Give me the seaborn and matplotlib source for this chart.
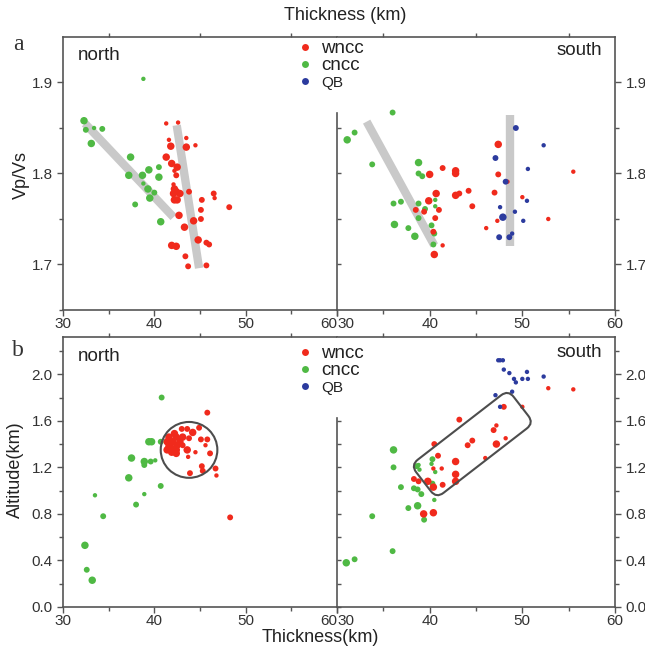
import numpy as np
import pandas as pd
import matplotlib
matplotlib.use("Agg")
import matplotlib.pyplot as plt
import seaborn as sns
from matplotlib.patches import Ellipse, FancyBboxPatch
from matplotlib.transforms import Affine2D, ScaledTranslation
from matplotlib.ticker import MultipleLocator, FixedLocator
from matplotlib.lines import Line2D

# ---------------- panel a : crustal thickness (km) vs Vp/Vs ----------------
# w = marker weight class (1 small, 2 medium, 3 large)
an_wncc_h = [41.3, 42.6, 43.5, 41.6, 41.8, 43.5, 44.5, 41.3, 41.9, 42.5, 42.2, 42.4, 42.1,
             42.2, 42.4, 42.1, 42.8, 42.2, 42.5, 43.8, 45.2, 46.5, 46.6, 48.2, 45.1, 42.7,
             44.3, 45.1, 43.3, 44.8, 45.7, 46.0, 41.9, 42.4, 43.4, 43.7, 45.7]
an_wncc_k = [1.855, 1.856, 1.839, 1.837, 1.830, 1.829, 1.831, 1.818, 1.811, 1.807, 1.803,
             1.798, 1.788, 1.783, 1.780, 1.778, 1.778, 1.771, 1.771, 1.780, 1.771, 1.778,
             1.773, 1.763, 1.760, 1.754, 1.748, 1.750, 1.741, 1.727, 1.724, 1.722, 1.721,
             1.720, 1.709, 1.698, 1.699]
an_wncc_w = [1, 1, 1, 1, 3, 3, 1, 3, 3, 3, 1, 2, 1, 3, 3, 3, 3, 3, 3, 2, 2, 2, 1, 2, 2, 3,
             3, 2, 3, 3, 2, 2, 3, 3, 2, 2, 2]

an_cncc_h = [38.8, 32.3, 32.5, 33.4, 34.3, 33.1, 37.4, 39.4, 40.5, 37.2, 38.7, 40.5, 38.8,
             39.3, 40.0, 39.5, 37.9, 40.7]
an_cncc_k = [1.904, 1.858, 1.848, 1.850, 1.849, 1.833, 1.818, 1.804, 1.807, 1.798, 1.798,
             1.796, 1.789, 1.783, 1.779, 1.773, 1.766, 1.747]
an_cncc_w = [1, 3, 2, 1, 2, 3, 3, 3, 2, 3, 3, 3, 1, 3, 2, 3, 2, 3]

as_wncc_h = [47.4, 41.4, 42.8, 42.8, 40.0, 47.4, 44.2, 43.2, 42.8, 40.7, 47.0, 50.0, 39.9,
             44.6, 38.5, 39.4, 41.0, 40.6, 47.3, 48.4, 52.8, 46.1, 40.4, 41.4, 40.5, 55.5]
as_wncc_k = [1.832, 1.806, 1.803, 1.800, 1.799, 1.799, 1.781, 1.778, 1.776, 1.778, 1.779,
             1.774, 1.770, 1.764, 1.760, 1.758, 1.760, 1.751, 1.748, 1.791, 1.750, 1.740,
             1.736, 1.721, 1.711, 1.802]
as_wncc_w = [3, 2, 3, 3, 3, 2, 2, 2, 3, 3, 2, 1, 3, 2, 2, 2, 2, 2, 1, 1, 1, 1, 2, 1, 3, 1]

as_cncc_h = [36.0, 31.9, 31.1, 33.8, 38.8, 38.8, 39.2, 36.1, 36.9, 38.8, 40.6, 39.5, 40.6,
             38.8, 36.2, 37.7, 38.4, 40.2, 40.5, 40.4]
as_cncc_k = [1.867, 1.845, 1.837, 1.810, 1.812, 1.800, 1.797, 1.767, 1.769, 1.767, 1.771,
             1.761, 1.764, 1.751, 1.744, 1.740, 1.731, 1.743, 1.734, 1.722]
as_cncc_w = [2, 2, 3, 2, 3, 2, 2, 2, 2, 2, 1, 2, 1, 2, 3, 2, 3, 2, 2, 2]

as_qb_h = [49.3, 52.3, 47.1, 50.6, 48.2, 50.5, 47.6, 49.2, 47.9, 50.1, 47.5, 48.6, 48.9]
as_qb_k = [1.850, 1.831, 1.817, 1.805, 1.791, 1.770, 1.763, 1.758, 1.752, 1.748, 1.730,
           1.730, 1.734]
as_qb_w = [2, 1, 2, 1, 2, 1, 1, 1, 3, 1, 2, 2, 1]

# trend bars (thickness, Vp/Vs end points)
an_trend_cncc = ([32.4, 42.1], [1.855, 1.752])
an_trend_wncc = ([42.45, 44.9], [1.853, 1.696])
as_trend_cncc = ([33.2, 40.5], [1.857, 1.721])
as_trend_qb = ([48.7, 48.7], [1.864, 1.720])

# ---------------- panel b : crustal thickness (km) vs altitude (km) ----------------
bn_wncc_h = [45.8, 43.0, 43.6, 44.9, 44.2, 42.2, 41.6, 42.4, 43.1, 43.8, 45.1, 45.8, 41.4,
             42.0, 42.8, 42.5, 41.6, 42.0, 42.4, 43.1, 45.6, 41.4, 41.9, 42.4, 43.6, 46.1,
             44.5, 43.7, 46.7, 45.2, 45.3, 43.9, 46.8, 48.3]
bn_wncc_a = [1.67, 1.53, 1.53, 1.54, 1.50, 1.49, 1.46, 1.46, 1.46, 1.45, 1.44, 1.44, 1.42,
             1.42, 1.42, 1.39, 1.38, 1.36, 1.35, 1.39, 1.39, 1.35, 1.33, 1.32, 1.35, 1.32,
             1.33, 1.29, 1.19, 1.21, 1.17, 1.15, 1.13, 0.77]
bn_wncc_w = [2, 2, 2, 2, 3, 3, 3, 3, 3, 2, 2, 2, 3, 3, 3, 3, 3, 3, 3, 2, 1, 3, 3, 3, 3, 2,
             1, 1, 2, 2, 2, 2, 1, 2]

bn_cncc_h = [40.8, 39.4, 39.7, 40.7, 37.5, 38.9, 38.9, 39.6, 40.1, 37.2, 40.7, 33.5, 38.9,
             38.0, 34.4, 32.4, 32.6, 33.2]
bn_cncc_a = [1.80, 1.42, 1.42, 1.42, 1.28, 1.25, 1.22, 1.25, 1.26, 1.11, 1.04, 0.96, 0.97,
             0.88, 0.78, 0.53, 0.32, 0.23]
bn_cncc_w = [2, 3, 3, 2, 3, 3, 2, 2, 1, 3, 2, 1, 1, 2, 2, 3, 2, 3]

bs_wncc_h = [52.8, 55.5, 48.0, 50.0, 43.2, 46.9, 47.2, 48.2, 44.6, 44.1, 47.2, 40.5, 40.9,
             46.0, 42.8, 40.4, 41.3, 42.8, 38.8, 39.8, 41.4, 42.8, 40.4, 39.35, 40.4, 38.3]
bs_wncc_a = [1.88, 1.87, 1.72, 1.72, 1.61, 1.52, 1.56, 1.45, 1.43, 1.39, 1.40, 1.40, 1.30,
             1.28, 1.25, 1.19, 1.19, 1.14, 1.08, 1.08, 1.05, 1.08, 1.03, 0.80, 0.81, 1.10]
bs_wncc_w = [1, 1, 2, 1, 2, 2, 1, 1, 2, 2, 3, 2, 2, 1, 3, 1, 1, 3, 2, 3, 2, 3, 3, 3, 3, 2]

bs_cncc_h = [36.1, 36.1, 38.6, 38.9, 40.3, 40.2, 36.9, 38.3, 38.7, 39.1, 40.6, 40.3, 37.7,
             38.7, 40.5, 39.4, 33.8, 36.0, 31.9, 31.0, 38.8]
bs_cncc_a = [1.35, 1.20, 1.21, 1.18, 1.27, 1.23, 1.03, 1.02, 1.01, 0.97, 1.16, 1.06, 0.85,
             0.87, 0.92, 0.75, 0.78, 0.48, 0.41, 0.38, 1.22]
bs_cncc_w = [3, 2, 2, 1, 2, 1, 2, 2, 2, 2, 1, 2, 2, 3, 1, 2, 2, 2, 2, 3, 1]

bs_qb_h = [47.4, 47.6, 47.9, 48.0, 48.6, 49.1, 49.3, 50.5, 50.0, 50.6, 52.3, 47.1, 47.6, 48.9]
bs_qb_a = [2.12, 2.12, 2.12, 2.04, 2.01, 1.96, 1.93, 2.02, 1.96, 1.96, 1.98, 1.82, 1.72, 1.85]
bs_qb_w = [1, 1, 1, 1, 1, 1, 1, 1, 1, 1, 1, 1, 1, 1]

# outlined clusters
bn_circle = dict(center=(43.8, 1.35), width=6.2, height=0.48)
bs_box_center = (44.6, 1.40)

# axis ticks
thk_ticks = [30, 40, 50, 60]
vpvs_major = [1.7, 1.8, 1.9]
vpvs_minor = [1.65, 1.75, 1.85]
alt_major = [0.0, 0.4, 0.8, 1.2, 1.6, 2.0]
alt_minor = [0.2, 0.6, 1.0, 1.4, 1.8, 2.2]

colors = {"wncc": "#f02a1c", "cncc": "#4fb944", "QB": "#2c3b9e"}
sizes = {1: 10, 2: 18, 3: 29}

sns.set_style("ticks")
plt.rcParams["font.family"] = ["Liberation Sans", "DejaVu Sans"]
EDGE = "#555555"
TXT = "#333333"

fig = plt.figure(figsize=(6.45, 6.49), dpi=100)


def px(x0, y0, x1, y1):
    return [x0 / 645, 1 - y1 / 649, (x1 - x0) / 645, (y1 - y0) / 649]


def scatter(ax, parts):
    frames = [pd.DataFrame({"thk": h, "val": v, "w": w, "grp": g}) for g, h, v, w in parts]
    df = pd.concat(frames, ignore_index=True)
    sns.scatterplot(data=df, x="thk", y="val", hue="grp", size="w", palette=colors,
                    sizes=sizes, legend=False, linewidth=0, ax=ax, zorder=3)
    ax.set_xlabel("")
    ax.set_ylabel("")


def style(ax, ylim, major, minor, side, inner_top, inner_ticks):
    ax.set_xlim(30, 60)
    ax.set_ylim(*ylim)
    ax.set_xticks(thk_ticks)
    ax.xaxis.set_minor_locator(MultipleLocator(5))
    ax.tick_params(axis="x", which="both", direction="out", colors=EDGE, labelcolor=TXT,
                   labelsize=11, width=1.0)
    ax.tick_params(axis="x", which="major", length=4, pad=1, top=False)
    ax.tick_params(axis="x", which="minor", length=3, top=True)
    for s in ax.spines.values():
        s.set_color(EDGE)
        s.set_linewidth(1.2)
    labels = ax.get_xticklabels()
    if side == "north":
        labels[-1].set_ha("right")
        ax.spines["right"].set_visible(False)
        ax.yaxis.set_major_locator(FixedLocator(major))
        ax.yaxis.set_minor_locator(FixedLocator(minor))
        ax.tick_params(axis="y", which="both", direction="out", colors=EDGE,
                       labelcolor=TXT, labelsize=11, width=1.0, right=False)
        ax.tick_params(axis="y", which="major", length=4)
        ax.tick_params(axis="y", which="minor", length=3)
    else:
        labels[0].set_ha("left")
        ax.spines["right"].set_visible(False)
        ax.spines["left"].set_bounds(ylim[0], inner_top)
        ax.yaxis.set_major_locator(FixedLocator(inner_ticks))
        ax.yaxis.set_minor_locator(FixedLocator([]))
        ax.tick_params(axis="y", which="both", direction="in", colors=EDGE,
                       labelleft=False, length=3, width=1.0)
        sec = ax.secondary_yaxis("right")
        sec.yaxis.set_major_locator(FixedLocator(major))
        sec.yaxis.set_minor_locator(FixedLocator(minor))
        sec.tick_params(which="both", direction="out", colors=EDGE, labelcolor=TXT,
                        labelsize=11, width=1.0)
        sec.tick_params(which="major", length=4)
        sec.tick_params(which="minor", length=3)
        sec.spines["right"].set_color(EDGE)
        sec.spines["right"].set_linewidth(1.2)


def bar(ax, seg):
    ax.plot(seg[0], seg[1], color="#c9c9c9", lw=6, solid_capstyle="butt", zorder=2)


ax_an = fig.add_axes(px(63, 37, 337, 310))
ax_as = fig.add_axes(px(337, 37, 615, 310))
ax_bn = fig.add_axes(px(63, 337, 337, 607))
ax_bs = fig.add_axes(px(337, 337, 615, 607))

# panel a
bar(ax_an, an_trend_cncc)
bar(ax_an, an_trend_wncc)
scatter(ax_an, [("cncc", an_cncc_h, an_cncc_k, an_cncc_w),
                ("wncc", an_wncc_h, an_wncc_k, an_wncc_w)])
bar(ax_as, as_trend_cncc)
bar(ax_as, as_trend_qb)
scatter(ax_as, [("cncc", as_cncc_h, as_cncc_k, as_cncc_w),
                ("wncc", as_wncc_h, as_wncc_k, as_wncc_w),
                ("QB", as_qb_h, as_qb_k, as_qb_w)])
style(ax_an, (1.65, 1.95), vpvs_major, vpvs_minor, "north", None, None)
style(ax_as, (1.65, 1.95), vpvs_major, vpvs_minor, "south", 1.866,
      [1.70, 1.75, 1.80, 1.85])

# panel b
scatter(ax_bn, [("cncc", bn_cncc_h, bn_cncc_a, bn_cncc_w),
                ("wncc", bn_wncc_h, bn_wncc_a, bn_wncc_w)])
scatter(ax_bs, [("cncc", bs_cncc_h, bs_cncc_a, bs_cncc_w),
                ("wncc", bs_wncc_h, bs_wncc_a, bs_wncc_w),
                ("QB", bs_qb_h, bs_qb_a, bs_qb_w)])
style(ax_bn, (0, 2.32), alt_major, alt_minor, "north", None, None)
style(ax_bs, (0, 2.32), alt_major, alt_minor, "south", 1.62,
      [0.0, 0.2, 0.4, 0.6, 0.8, 1.0, 1.2, 1.4, 1.6])

ax_bn.add_patch(Ellipse(bn_circle["center"], bn_circle["width"], bn_circle["height"],
                        fill=False, ec="#4d4d4d", lw=1.5, zorder=4))
box = FancyBboxPatch((-0.616, -0.21), 1.232, 0.42,
                     boxstyle="round,pad=0,rounding_size=0.09",
                     fill=False, ec="#4d4d4d", lw=1.5, zorder=4,
                     transform=Affine2D().rotate_deg(37.7) + fig.dpi_scale_trans
                     + ScaledTranslation(*bs_box_center, ax_bs.transData))
ax_bs.add_patch(box)
ax_bs.set_xlim(30, 60)
ax_bs.set_ylim(0, 2.32)

# region labels
for ax, yy in [(ax_an, 0.934), (ax_bn, 0.926)]:
    ax.text(0.055, yy, "north", transform=ax.transAxes, fontsize=13.5, color="#222222",
            va="center", ha="left")
for ax, yy in [(ax_as, 0.952), (ax_bs, 0.944)]:
    ax.text(0.953, yy, "south", transform=ax.transAxes, fontsize=13.5, color="#222222",
            va="center", ha="right")

# legends
handles = [Line2D([], [], ls="", marker="o", ms=5, mec="none", mfc=colors[g])
           for g in ["wncc", "cncc", "QB"]]
for yy in [40, 345]:
    leg = fig.legend(handles, ["wncc", "cncc", "QB"], loc="upper left",
                     bbox_to_anchor=(299 / 645, 1 - yy / 649), frameon=False,
                     fontsize=13.5, handlelength=0.6, handletextpad=0.6,
                     labelspacing=0.0, borderpad=0.0, borderaxespad=0.0)
    for t in leg.get_texts():
        t.set_color("#222222")
    leg.get_texts()[2].set_fontsize(11)

# axis titles
fig.text(345 / 645, 1 - 15 / 649, "Thickness (km)", ha="center", va="center",
         fontsize=13, color="#222222")
fig.text(320 / 645, 1 - 637 / 649, "Thickness(km)", ha="center", va="center",
         fontsize=13, color="#222222")
fig.text(21 / 645, 1 - 175 / 649, "Vp/Vs", ha="center", va="center", rotation=90,
         fontsize=13, color="#222222")
fig.text(15 / 645, 1 - 470 / 649, "Altitude(km)", ha="center", va="center", rotation=90,
         fontsize=13, color="#222222")
fig.text(18 / 645, 1 - 45 / 649, "a", ha="center", va="center", fontsize=17,
         family="Liberation Serif", color="#333333")
fig.text(18 / 645, 1 - 350 / 649, "b", ha="center", va="center", fontsize=17,
         family="Liberation Serif", color="#333333")

fig.savefig("out.png", dpi=100)
